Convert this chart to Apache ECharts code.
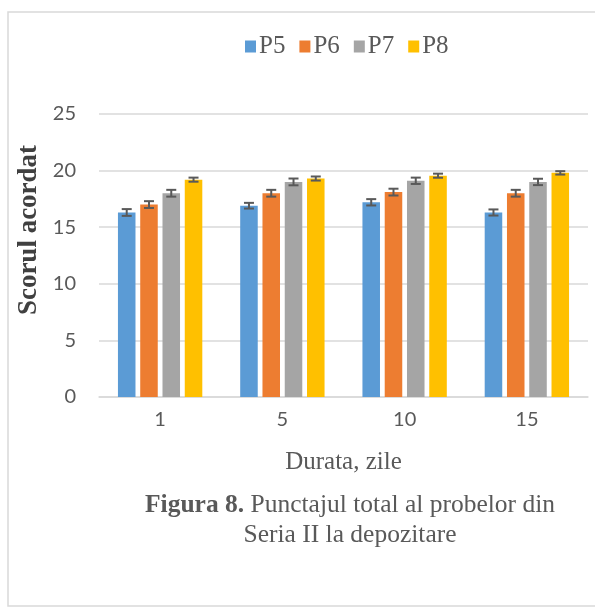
<!DOCTYPE html>
<html><head><meta charset="utf-8">
<script src="https://cdn.jsdelivr.net/npm/echarts@6/dist/echarts.min.js"></script>
<style>html,body{margin:0;padding:0;background:#fff}#c{width:595px;height:610px}</style>
</head><body><div id="c"></div>
<script>
const categories = ['1', '5', '10', '15'];
const seriesNames = ['P5', 'P6', 'P7', 'P8'];
const P5 = [16.3, 16.9, 17.2, 16.3];
const P6 = [17.0, 18.0, 18.1, 18.0];
const P7 = [18.0, 19.0, 19.1, 19.0];
const P8 = [19.2, 19.3, 19.55, 19.8];
const errP5 = [0.3, 0.25, 0.28, 0.27];
const errP6 = [0.3, 0.3, 0.3, 0.3];
const errP7 = [0.3, 0.3, 0.28, 0.28];
const errP8 = [0.18, 0.18, 0.18, 0.15];
const colors = ['#5B9BD5', '#ED7D31', '#A5A5A5', '#FFC000'];
const values = [P5, P6, P7, P8];
const errs = [errP5, errP6, errP7, errP8];
const CAT_GAP = 0.31, BAR_GAP = 0.27;

const chart = echarts.init(document.getElementById('c'), null, {renderer: 'canvas'});
const series = [];
values.forEach((v, i) => {
  series.push({
    name: seriesNames[i], type: 'bar', data: v,
    barGap: (BAR_GAP * 100) + '%', barCategoryGap: (CAT_GAP * 100) + '%',
    itemStyle: {color: colors[i]}
  });
});
values.forEach((v, i) => {
  series.push({
    type: 'custom', silent: true, z: 10,
    data: v.map((y, k) => [k, y, errs[i][k]]),
    renderItem: function (params, api) {
      const k = api.value(0), y = api.value(1), e = api.value(2);
      const band = api.size([1, 0])[0];
      const bw = band * (1 - CAT_GAP) / (4 + 3 * BAR_GAP);
      const off = -band * (1 - CAT_GAP) / 2 + bw / 2 + i * bw * (1 + BAR_GAP);
      const hi = api.coord([k, y + e]), lo = api.coord([k, y - e]);
      const x = hi[0] + off, cap = 5;
      const st = {stroke: '#595959', lineWidth: 2};
      return {type: 'group', children: [
        {type: 'line', shape: {x1: x, y1: hi[1], x2: x, y2: lo[1]}, style: st},
        {type: 'line', shape: {x1: x - cap, y1: hi[1], x2: x + cap, y2: hi[1]}, style: st},
        {type: 'line', shape: {x1: x - cap, y1: lo[1], x2: x + cap, y2: lo[1]}, style: st}
      ]};
    }
  });
});

chart.setOption({
  animation: false,
  color: colors,
  legend: {
    data: seriesNames, top: 29, left: 240, itemWidth: 11, itemHeight: 12, itemGap: 14,
    icon: 'rect',
    textStyle: {fontFamily: 'Liberation Serif', fontSize: 25, color: '#595959', padding: [0, 0, 0, -2]}
  },
  grid: {left: 99, right: 7, top: 114, bottom: 213, containLabel: false, outerBoundsMode: 'none'},
  xAxis: {
    type: 'category', data: categories,
    axisLine: {lineStyle: {color: '#d9d9d9', width: 1.5}},
    axisTick: {show: false},
    axisLabel: {fontFamily: 'Lato', fontSize: 20, color: '#595959', margin: 13},
    name: 'Durata, zile', nameLocation: 'middle', nameGap: 53,
    nameTextStyle: {fontFamily: 'Liberation Serif', fontSize: 25, color: '#595959'}
  },
  yAxis: {
    type: 'value', min: 0, max: 25, interval: 5,
    axisLine: {show: false}, axisTick: {show: false},
    splitLine: {lineStyle: {color: '#d9d9d9', width: 1.5}},
    axisLabel: {fontFamily: 'Lato', fontSize: 20, color: '#595959', margin: 23}
  },
  graphic: [
    {type: 'rect', shape: {x: 8, y: 12, width: 600, height: 594}, style: {fill: 'none', stroke: '#d9d9d9', lineWidth: 1.5}, silent: true},
    {type: 'text', x: 29, y: 230, rotation: Math.PI / 2, silent: true, style: {
      text: 'Scorul acordat', align: 'center', verticalAlign: 'middle', fill: '#404040',
      fontFamily: 'Liberation Serif', fontSize: 27, fontWeight: 'bold'
    }},
    {type: 'text', x: 350, y: 505, silent: true, style: {
      text: '{b|Figura 8.} Punctajul total al probelor din',
      align: 'center', verticalAlign: 'middle', fill: '#595959',
      fontFamily: 'Liberation Serif', fontSize: 25.5,
      rich: {b: {fontWeight: 'bold', fontFamily: 'Liberation Serif', fontSize: 25.5, fill: '#595959'}}
    }},
    {type: 'text', x: 350, y: 535, silent: true, style: {
      text: 'Seria II la depozitare',
      align: 'center', verticalAlign: 'middle', fill: '#595959',
      fontFamily: 'Liberation Serif', fontSize: 25.5
    }}
  ],
  series: series
});
</script></body></html>
